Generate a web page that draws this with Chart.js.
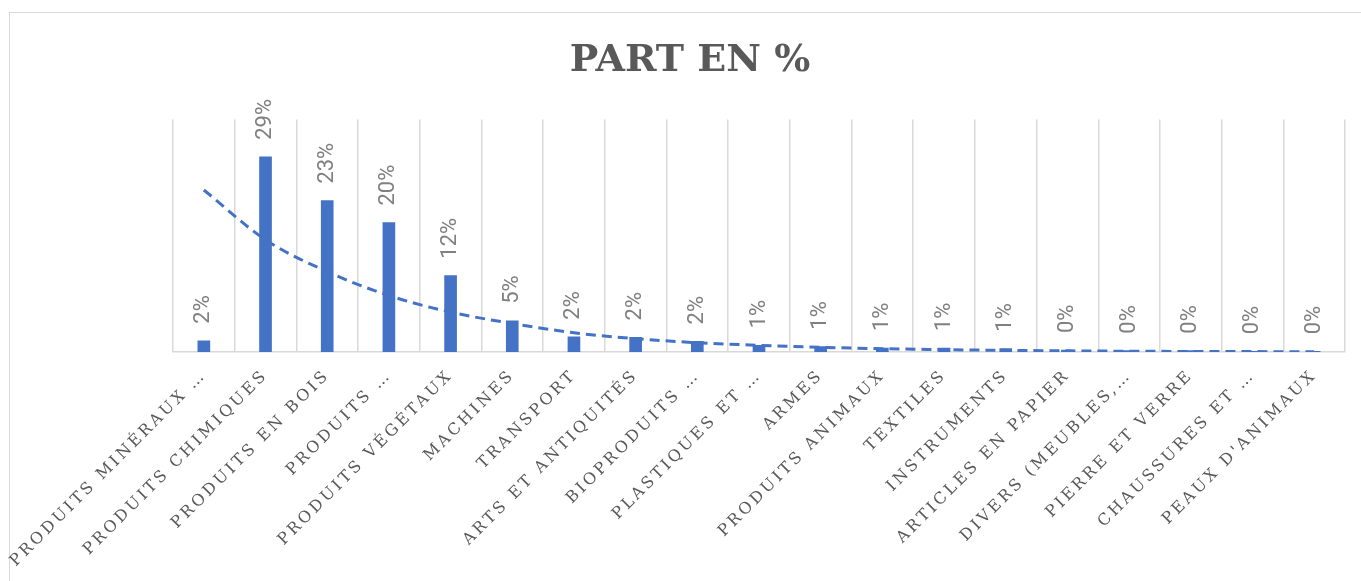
<!DOCTYPE html>
<html>
<head>
<meta charset="utf-8">
<script src="https://cdn.jsdelivr.net/npm/chart.js@4"></script>
<style>
  body { margin: 0; background: #fff; }
  #wrap { position: relative; width: 1361px; height: 581px; overflow: hidden; }
  #frame { position: absolute; left: 9px; top: 12px; width: 1400px; height: 620px; border: 1.5px solid #d9d9d9; }
  #myChart { position: absolute; left: 0; top: 0; }
</style>
</head>
<body>
<div id="wrap">
  <div id="frame"></div>
  <canvas id="myChart" width="1361" height="581"></canvas>
</div>
<script>
const categories = [
   "PRODUITS MINÉRAUX …",
   "PRODUITS CHIMIQUES",
   "PRODUITS EN BOIS",
   "PRODUITS …",
   "PRODUITS VÉGÉTAUX",
   "MACHINES",
   "TRANSPORT",
   "ARTS ET ANTIQUITÉS",
   "BIOPRODUITS …",
   "PLASTIQUES ET …",
   "ARMES",
   "PRODUITS ANIMAUX",
   "TEXTILES",
   "INSTRUMENTS",
   "ARTICLES EN PAPIER",
   "DIVERS (MEUBLES,…",
   "PIERRE ET VERRE",
   "CHAUSSURES ET …",
   "PEAUX D'ANIMAUX",
];
// part en %
const shares = [1.7, 29.4, 22.8, 19.5, 11.5, 4.7, 2.3, 2.2, 1.6, 1.0, 0.8, 0.6, 0.6, 0.5, 0.3, 0.2, 0.2, 0.1, 0.1];
// dashed trend line
const trend = [24.4, 16.9, 12.1, 8.5, 6.0, 4.3, 2.9, 2.0, 1.4, 1.0, 0.7, 0.5, 0.35, 0.25, 0.17, 0.12, 0.08, 0.06, 0.04];
const yMax = 35;

const blue = "#4472C4";
const gridGrey = "#d9d9d9";

// letter spacing on the category labels only
const spacedTicks = {
   id: "spacedTicks",
   afterLayout(chart) {
      const s = chart.scales.x;
      if (s._spaced) return;
      const orig = s.drawLabels.bind(s);
      s.drawLabels = function (area) {
         chart.ctx.save();
         chart.ctx.letterSpacing = "3px";
         orig(area);
         chart.ctx.restore();
      };
      s._spaced = true;
   },
};

// rotated value labels above the bars
const barLabels = {
   id: "barLabels",
   afterDatasetsDraw(chart) {
      const ctx = chart.ctx;
      const meta = chart.getDatasetMeta(0);
      ctx.save();
      ctx.font = "22px Roboto";
      ctx.fillStyle = "#808080";
      ctx.textAlign = "left";
      ctx.textBaseline = "middle";
      meta.data.forEach((bar, i) => {
         ctx.save();
         ctx.translate(bar.x, bar.y - 17);
         ctx.rotate(-Math.PI / 2);
         ctx.fillText(Math.round(shares[i]) + "%", 0, 0);
         ctx.restore();
      });
      ctx.restore();
   },
};

const ctx = document.getElementById("myChart");
const myChart = new Chart(ctx, {
   type: "bar",
   data: {
      labels: categories,
      datasets: [
         {
            label: "Part en %",
            data: shares,
            backgroundColor: blue,
            borderWidth: 0,
            barThickness: 12,
            order: 1,
         },
         {
            type: "line",
            label: "Tendance",
            data: trend,
            borderColor: blue,
            borderWidth: 3,
            borderDash: [10, 6],
            pointRadius: 0,
            fill: false,
            cubicInterpolationMode: "monotone",
            order: 0,
         },
      ],
   },
   options: {
      responsive: false,
      animation: false,
      devicePixelRatio: 1,
      layout: { padding: { left: 19, right: 0, top: 18, bottom: 0 } },
      plugins: {
         legend: { display: false },
         tooltip: { enabled: false },
         title: {
            display: true,
            text: "PART EN %",
            color: "#595959",
            font: { family: "DejaVu Serif", size: 38, weight: "bold", lineHeight: 1.2 },
            padding: { top: 20, bottom: 36 },
         },
      },
      scales: {
         x: {
            grid: { color: gridGrey, lineWidth: 1.5, drawTicks: false },
            border: { color: gridGrey, width: 1.5 },
            ticks: {
               color: "#595959",
               font: { family: "DejaVu Serif", size: 16 },
               minRotation: 45,
               maxRotation: 45,
               autoSkip: false,
               padding: 14,
            },
            afterFit(s) { s.height = 229; },
         },
         y: {
            min: 0,
            max: yMax,
            ticks: { display: false },
            grid: { display: false },
            border: { display: false },
            afterFit(s) { s.width = 154; },
         },
         y2: {
            type: "linear",
            position: "right",
            ticks: { display: false },
            grid: { display: false },
            border: { display: false },
            afterFit(s) { s.width = 16; },
         },
      },
   },
   plugins: [spacedTicks, barLabels],
});
</script>
</body>
</html>
